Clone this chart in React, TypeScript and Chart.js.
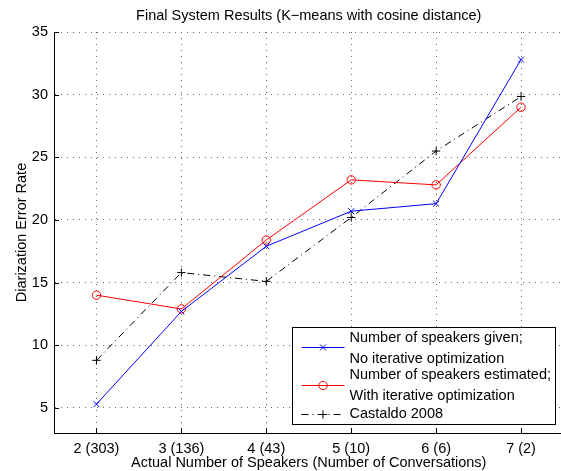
import React, { useEffect, useRef } from "react";
import { Chart, registerables } from "chart.js";

Chart.register(...registerables);

// ---- data ----
const xValues = [2, 3, 4, 5, 6, 7];
const xTickLabels = ["2 (303)", "3 (136)", "4 (43)", "5 (10)", "6 (6)", "7 (2)"];
const yTickValues = [5, 10, 15, 20, 25, 30, 35];
const givenNoIter = [5.3, 12.7, 17.9, 20.7, 21.3, 32.8];
const estimatedIter = [14.0, 12.9, 18.4, 23.2, 22.8, 29.0];
const castaldo2008 = [8.8, 15.8, 15.1, 20.2, 25.5, 29.85];
const seriesLabels = [
  ["Number of speakers given;", "No iterative optimization"],
  ["Number of speakers estimated;", "With iterative optimization"],
  ["Castaldo 2008"],
];
const chartTitle = "Final System Results (K\u2212means with cosine distance)";
const xTitle = "Actual Number of Speakers (Number of Conversations)";
const yTitle = "Diarization Error Rate";

const FONT_FAMILY = '"Liberation Sans", Arial, Helvetica, sans-serif';
const FONT_SIZE = 14.5;
const FONT = `${FONT_SIZE}px ${FONT_FAMILY}`;
const DASH_DOT = [7, 4, 1, 4];

function drawMarker(ctx: CanvasRenderingContext2D, style: string, x: number, y: number, r: number, color: string) {
  ctx.save();
  ctx.strokeStyle = color;
  ctx.lineWidth = 1;
  ctx.setLineDash([]);
  ctx.beginPath();
  if (style === "crossRot") {
    const d = r * Math.SQRT1_2;
    ctx.moveTo(x - d, y - d);
    ctx.lineTo(x + d, y + d);
    ctx.moveTo(x - d, y + d);
    ctx.lineTo(x + d, y - d);
  } else if (style === "cross") {
    ctx.moveTo(x - r, y);
    ctx.lineTo(x + r, y);
    ctx.moveTo(x, y - r);
    ctx.lineTo(x, y + r);
  } else {
    ctx.arc(x, y, r, 0, Math.PI * 2);
  }
  ctx.stroke();
  ctx.restore();
}

const extrasPlugin = {
  id: "matlabExtras",
  afterDraw(chart: any) {
    const { ctx, chartArea: ca, scales } = chart;
    ctx.save();
    // inward ticks
    ctx.strokeStyle = "#000";
    ctx.lineWidth = 1;
    ctx.setLineDash([]);
    ctx.beginPath();
    yTickValues.forEach((v) => {
      const py = Math.round(scales.y.getPixelForValue(v)) + 0.5;
      ctx.moveTo(ca.left, py);
      ctx.lineTo(ca.left + 5, py);
    });
    xValues.forEach((v) => {
      const px = Math.round(scales.x.getPixelForValue(v)) + 0.5;
      ctx.moveTo(px, ca.bottom);
      ctx.lineTo(px, ca.bottom - 5);
    });
    ctx.stroke();

    // y axis title
    ctx.save();
    ctx.font = FONT;
    ctx.fillStyle = "#000";
    ctx.textAlign = "center";
    ctx.textBaseline = "middle";
    ctx.translate(22, (ca.top + ca.bottom) / 2);
    ctx.rotate(-Math.PI / 2);
    ctx.fillText(yTitle, 0, 0);
    ctx.restore();

    // legend
    const w = 263;
    const h = 97;
    const left = Math.round(ca.right - 8.5 - w);
    const top = Math.round(ca.bottom - 9 - h);
    ctx.fillStyle = "#fff";
    ctx.fillRect(left, top, w, h);
    ctx.strokeStyle = "#000";
    ctx.lineWidth = 1;
    ctx.strokeRect(left + 0.5, top + 0.5, w, h);

    const sampleY = [20.3, 58.3, 87.3];
    const textY = [[11, 31.6], [48.3, 69.3], [87.3]];
    const ds = chart.data.datasets;
    ds.forEach((d: any, i: number) => {
      const y = Math.round(top + sampleY[i]) + 0.5;
      ctx.save();
      ctx.strokeStyle = d.borderColor;
      ctx.lineWidth = 1;
      ctx.setLineDash(d.borderDash || []);
      ctx.beginPath();
      ctx.moveTo(left + 9.5, y);
      ctx.lineTo(left + 52.5, y);
      ctx.stroke();
      ctx.restore();
      drawMarker(ctx, d.pointStyle, left + 31, y, d.pointRadius, d.borderColor);
      ctx.font = FONT;
      ctx.fillStyle = "#000";
      ctx.textAlign = "left";
      ctx.textBaseline = "middle";
      seriesLabels[i].forEach((line, j) => {
        ctx.fillText(line, left + 57.5, top + textY[i][j]);
      });
    });
    ctx.restore();
  },
};

export default function App() {
  const ref = useRef<HTMLCanvasElement | null>(null);
  useEffect(() => {
    if (!ref.current) return;
    const mk = (arr: number[]) => xValues.map((x, i) => ({ x, y: arr[i] }));
    const chart = new Chart(ref.current, {
      type: "line",
      data: {
        datasets: [
          {
            label: seriesLabels[0].join(" "),
            data: mk(givenNoIter),
            borderColor: "#0000ff",
            backgroundColor: "#0000ff",
            borderWidth: 1,
            pointStyle: "crossRot",
            pointRadius: 4.2,
            pointBorderWidth: 1,
            pointBorderColor: "#0000ff",
            tension: 0,
          },
          {
            label: seriesLabels[1].join(" "),
            data: mk(estimatedIter),
            borderColor: "#ff0000",
            backgroundColor: "rgba(0,0,0,0)",
            borderWidth: 1,
            pointStyle: "circle",
            pointRadius: 4.2,
            pointBorderWidth: 1,
            pointBorderColor: "#ff0000",
            pointBackgroundColor: "rgba(0,0,0,0)",
            tension: 0,
          },
          {
            label: seriesLabels[2].join(" "),
            data: mk(castaldo2008),
            borderColor: "#000000",
            backgroundColor: "#000000",
            borderWidth: 1,
            borderDash: DASH_DOT,
            pointStyle: "cross",
            pointRadius: 4.2,
            pointBorderWidth: 1,
            pointBorderColor: "#000000",
            tension: 0,
          },
        ] as any,
      },
      options: {
        animation: false,
        responsive: false,
        devicePixelRatio: 1,
        layout: { padding: { left: 0, right: 36.5, top: 0, bottom: 0 } },
        plugins: {
          legend: { display: false },
          tooltip: { enabled: false },
          title: {
            display: true,
            text: chartTitle,
            fullSize: false,
            color: "#000",
            font: { family: FONT_FAMILY, size: FONT_SIZE, weight: "normal" },
            padding: { top: 7.3, bottom: 7.3 },
          },
        },
        scales: {
          x: {
            type: "linear",
            min: 1.5,
            max: 7.5,
            afterBuildTicks: (s: any) => {
              s.ticks = xValues.map((v) => ({ value: v }));
            },
            afterFit: (s: any) => {
              s.height = 47;
            },
            ticks: {
              color: "#000",
              font: { family: FONT_FAMILY, size: FONT_SIZE },
              padding: 7.3,
              maxRotation: 0,
              autoSkip: false,
              callback: (v: any) => {
                const i = xValues.indexOf(Number(v));
                return i >= 0 ? xTickLabels[i] : "";
              },
            },
            grid: { color: "#666", lineWidth: 1, drawTicks: false },
            border: { display: true, color: "#000", width: 1, dash: [1, 5] },
            title: {
              display: true,
              text: xTitle,
              color: "#000",
              font: { family: FONT_FAMILY, size: FONT_SIZE },
              padding: { top: 0, bottom: 8 },
            },
          },
          y: {
            type: "linear",
            min: 3,
            max: 35,
            afterBuildTicks: (s: any) => {
              s.ticks = yTickValues.map((v) => ({ value: v }));
            },
            afterFit: (s: any) => {
              s.width = 54;
            },
            ticks: {
              color: "#000",
              font: { family: FONT_FAMILY, size: FONT_SIZE },
              padding: 6,
              autoSkip: false,
            },
            grid: { color: "#666", lineWidth: 1, drawTicks: false },
            border: { display: true, color: "#000", width: 1, dash: [1, 5] },
          },
        },
      } as any,
      plugins: [extrasPlugin],
    });
    return () => chart.destroy();
  }, []);
  return (
    <div style={{ position: "fixed", left: 0, top: 0, width: 600, height: 480, background: "#fff" }}>
      <canvas ref={ref} width={600} height={480} style={{ width: 600, height: 480, display: "block" }} />
    </div>
  );
}
